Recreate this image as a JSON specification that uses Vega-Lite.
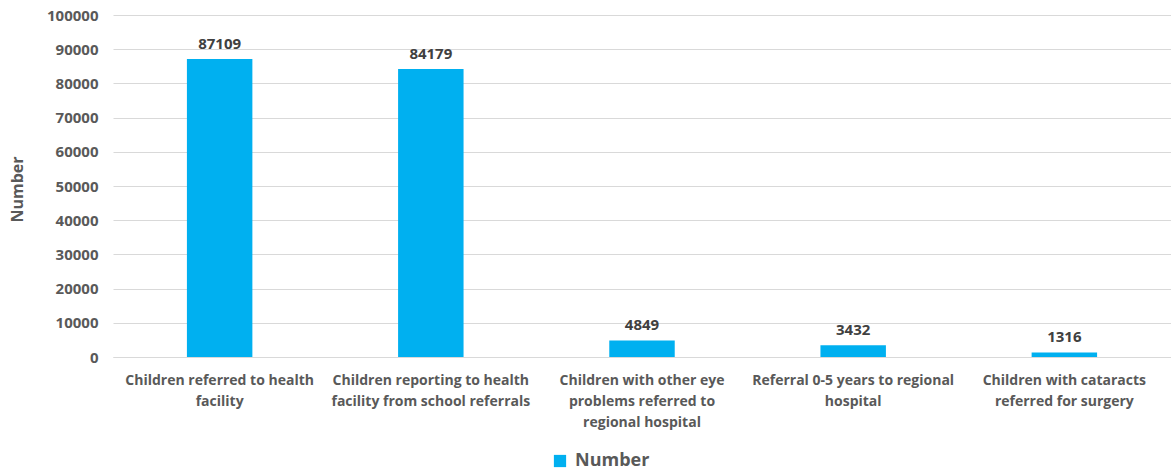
{
  "$schema": "https://vega.github.io/schema/vega-lite/v6.json",
  "autosize": "none",
  "width": 1058,
  "height": 342,
  "padding": {"left": 113, "top": 15, "right": 0, "bottom": 117},
  "background": "white",
  "data": {
    "values": [
      {"category": "Children referred to health facility", "series": "Number", "value": 87109},
      {"category": "Children reporting to health facility from school referrals", "series": "Number", "value": 84179},
      {"category": "Children with other eye problems referred to regional hospital", "series": "Number", "value": 4849},
      {"category": "Referral 0-5 years to regional hospital", "series": "Number", "value": 3432},
      {"category": "Children with cataracts referred for surgery", "series": "Number", "value": 1316}
    ]
  },
  "config": {
    "font": "Open Sans",
    "view": {"stroke": null}
  },
  "encoding": {
    "x": {
      "field": "category",
      "type": "nominal",
      "sort": null,
      "scale": {"paddingInner": 0.69, "paddingOuter": 0.35},
      "axis": {
        "title": null,
        "labelAngle": 0,
        "labelFont": "Open Sans",
        "labelFontSize": 14,
        "labelFontWeight": "bold",
        "labelColor": "#595959",
        "labelPadding": 16,
        "labelLineHeight": 21,
        "labelLimit": 0,
        "labelOverlap": false,
        "ticks": false,
        "domainColor": "#d9d9d9",
        "labelExpr": "datum.value == 'Children referred to health facility' ? ['Children referred to health', 'facility'] : datum.value == 'Children reporting to health facility from school referrals' ? ['Children reporting to health', 'facility from school referrals'] : datum.value == 'Children with other eye problems referred to regional hospital' ? ['Children with other eye', 'problems referred to', 'regional hospital'] : datum.value == 'Referral 0-5 years to regional hospital' ? ['Referral 0-5 years to regional', 'hospital'] : ['Children with cataracts', 'referred for surgery']"
      }
    },
    "y": {
      "field": "value",
      "type": "quantitative",
      "scale": {"domain": [0, 100000], "nice": false},
      "axis": {
        "title": "Number",
        "titleFont": "Open Sans",
        "titleFontSize": 16,
        "titleFontWeight": "bold",
        "titleColor": "#595959",
        "titlePadding": 21,
        "titleY": 174,
        "values": [0, 10000, 20000, 30000, 40000, 50000, 60000, 70000, 80000, 90000, 100000],
        "format": "d",
        "labelFont": "Open Sans",
        "labelFontSize": 15,
        "labelFontWeight": "bold",
        "labelColor": "#595959",
        "labelPadding": 15,
        "labelOverlap": false,
        "ticks": false,
        "domain": false,
        "grid": true,
        "gridColor": "#d9d9d9",
        "gridWidth": 1
      }
    }
  },
  "layer": [
    {
      "mark": {"type": "bar", "color": "#00b0f0"},
      "encoding": {
        "color": {
          "field": "series",
          "type": "nominal",
          "scale": {"range": ["#00b0f0"]},
          "legend": {
            "title": null,
            "orient": "none",
            "legendX": 438,
            "legendY": 437,
            "symbolType": "square",
            "symbolSize": 150,
            "symbolStrokeWidth": 0,
            "labelFont": "Open Sans",
            "labelFontSize": 18,
            "labelFontWeight": "bold",
            "labelColor": "#595959",
            "labelOffset": 6
          }
        }
      }
    },
    {
      "mark": {"type": "text", "dy": -15, "font": "Open Sans", "fontSize": 15, "fontWeight": "bold", "color": "#404040"},
      "encoding": {
        "text": {"field": "value", "type": "quantitative", "format": "d"}
      }
    }
  ]
}
